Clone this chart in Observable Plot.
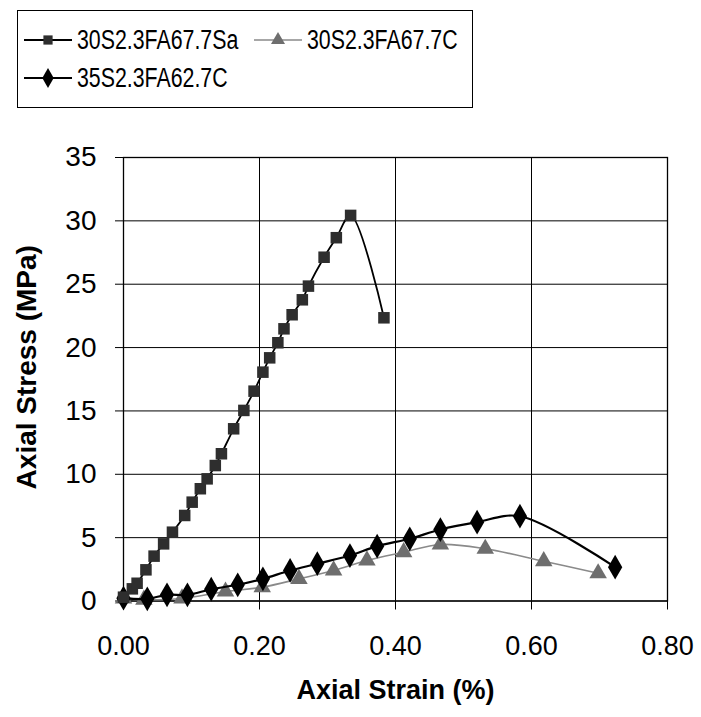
<!DOCTYPE html>
<html>
<head>
<meta charset="utf-8">
<script src="https://cdn.jsdelivr.net/npm/d3@7"></script>
<script src="https://cdn.jsdelivr.net/npm/@observablehq/plot@0.6"></script>
<style>
  html, body { margin: 0; padding: 0; background: #fff; }
  body { width: 701px; height: 717px; position: relative; overflow: hidden; font-family: "Liberation Sans", Arial, sans-serif; }
  #legend { position: absolute; left: 17px; top: 10px; width: 456px; height: 98px; border: 1.5px solid #000; box-sizing: border-box; }
  .item { position: absolute; height: 30px; font-size: 27px; color: #000; white-space: nowrap; }
  .item svg { position: absolute; left: 0; top: 0; }
  .item span { position: absolute; left: 55px; top: 0; line-height: 30px; display: inline-block; transform: scaleX(0.79); transform-origin: 0 50%; }
  #chart { position: absolute; left: 0; top: 120px; }
</style>
</head>
<body>
<div id="legend"></div>
<div id="chart"></div>
<script>
// ---- data ----
const seriesNames = ["30S2.3FA67.7Sa", "30S2.3FA67.7C", "35S2.3FA62.7C"];

const strainSa = [0, 0.013, 0.020, 0.033, 0.045, 0.059, 0.072, 0.090, 0.101, 0.113, 0.123, 0.135, 0.144, 0.162, 0.177, 0.192, 0.205, 0.215, 0.227, 0.236, 0.248, 0.263, 0.272, 0.295, 0.313, 0.334, 0.383];
const stressSa = [0.3, 0.96, 1.40, 2.46, 3.54, 4.51, 5.43, 6.75, 7.80, 8.86, 9.64, 10.69, 11.62, 13.59, 15.04, 16.56, 18.06, 19.19, 20.38, 21.48, 22.59, 23.77, 24.85, 27.13, 28.67, 30.43, 22.35];

const strainC30 = [0, 0.030, 0.086, 0.150, 0.204, 0.258, 0.309, 0.358, 0.412, 0.466, 0.532, 0.618, 0.698];
const stressC30 = [0.2, 0.1, 0.2, 0.75, 1.09, 1.75, 2.41, 3.20, 3.85, 4.46, 4.12, 3.14, 2.19];

const strainC35 = [0, 0.035, 0.064, 0.094, 0.129, 0.168, 0.205, 0.245, 0.285, 0.333, 0.373, 0.421, 0.466, 0.520, 0.583, 0.723];
const stressC35 = [0.22, 0.17, 0.49, 0.49, 0.93, 1.28, 1.75, 2.41, 2.94, 3.59, 4.33, 4.91, 5.64, 6.22, 6.69, 2.67];

const xTicks = [0, 0.2, 0.4, 0.6, 0.8];
const yTicks = [0, 5, 10, 15, 20, 25, 30, 35];
const xLabel = "Axial Strain (%)";
const yLabel = "Axial Stress (MPa)";

const toRows = (xs, ys) => xs.map((x, i) => ({x, y: ys[i]}));
const dSa = toRows(strainSa, stressSa);
const dC30 = toRows(strainC30, stressC30);
const dC35 = toRows(strainC35, stressC35);

const styles = [
  {symbol: "square", fill: "#2e2e2e", stroke: "#000", lineWidth: 1.8, r: 6.5},
  {symbol: "triangle", fill: "#6e6e6e", stroke: "#8a8a8a", lineWidth: 1.6, r: 6.5},
  {symbol: "diamond", fill: "#000", stroke: "#000", lineWidth: 2.2, r: 7.5}
];

// ---- chart ----
const chart = Plot.plot({
  width: 701,
  height: 597,
  marginTop: 37,
  marginBottom: 116.5,
  marginLeft: 123,
  marginRight: 34,
  style: {fontFamily: "'Liberation Sans', Arial, sans-serif", background: "white", color: "#000"},
  x: {domain: [0, 0.8]},
  y: {domain: [0, 35]},
  marks: [
    Plot.gridX(xTicks, {stroke: "#000", strokeOpacity: 1, strokeWidth: 1}),
    Plot.gridY(yTicks, {stroke: "#000", strokeOpacity: 1, strokeWidth: 1}),
    Plot.frame({stroke: "#000", strokeWidth: 1.3}),
    Plot.axisX(xTicks, {tickFormat: d3.format(".2f"), tickSize: 9, tickPadding: 26, fontSize: 27, label: null}),
    Plot.axisY(yTicks, {tickSize: 8, tickPadding: 19, fontSize: 28, label: null}),
    Plot.text([xLabel], {frameAnchor: "bottom", dy: 98, fontSize: 27, fontWeight: "bold"}),
    Plot.text([yLabel], {frameAnchor: "left", textAnchor: "middle", dx: -96, dy: -12, rotate: -90, fontSize: 28, fontWeight: "bold"}),
    // 30S2.3FA67.7C (triangles, grey)
    Plot.line(dC30, {x: "x", y: "y", curve: "catmull-rom", stroke: styles[1].stroke, strokeWidth: styles[1].lineWidth}),
    Plot.dot(dC30, {x: "x", y: "y", symbol: "triangle", r: styles[1].r, fill: styles[1].fill, stroke: "none"}),
    // 35S2.3FA62.7C (diamonds)
    Plot.line(dC35, {x: "x", y: "y", curve: "catmull-rom", stroke: styles[2].stroke, strokeWidth: styles[2].lineWidth}),
    Plot.dot(dC35, {x: "x", y: "y", symbol: "diamond", r: styles[2].r, fill: styles[2].fill, stroke: "none"}),
    // 30S2.3FA67.7Sa (squares)
    Plot.line(dSa, {x: "x", y: "y", curve: "catmull-rom", stroke: styles[0].stroke, strokeWidth: styles[0].lineWidth}),
    Plot.dot(dSa, {x: "x", y: "y", symbol: "square", r: styles[0].r, fill: styles[0].fill, stroke: "none"})
  ]
});
document.getElementById("chart").appendChild(chart);

// ---- legend ----
const legend = document.getElementById("legend");
const positions = [{left: 4, top: 14}, {left: 234, top: 14}, {left: 4, top: 52}];
seriesNames.forEach((name, i) => {
  const s = styles[i];
  const item = document.createElement("div");
  item.className = "item";
  item.style.left = positions[i].left + "px";
  item.style.top = positions[i].top + "px";
  const sym = {square: d3.symbolSquare, triangle: d3.symbolTriangle, diamond: d3.symbolDiamond}[s.symbol];
  const path = d3.symbol(sym, Math.PI * (s.r * 0.8) ** 2)();
  item.innerHTML = `<svg width="52" height="30"><line x1="2" x2="50" y1="15" y2="15" stroke="${s.stroke}" stroke-width="${s.lineWidth}"/><path transform="translate(26,15)" d="${path}" fill="${s.fill}"/></svg><span>${name}</span>`;
  legend.appendChild(item);
});
</script>
</body>
</html>
